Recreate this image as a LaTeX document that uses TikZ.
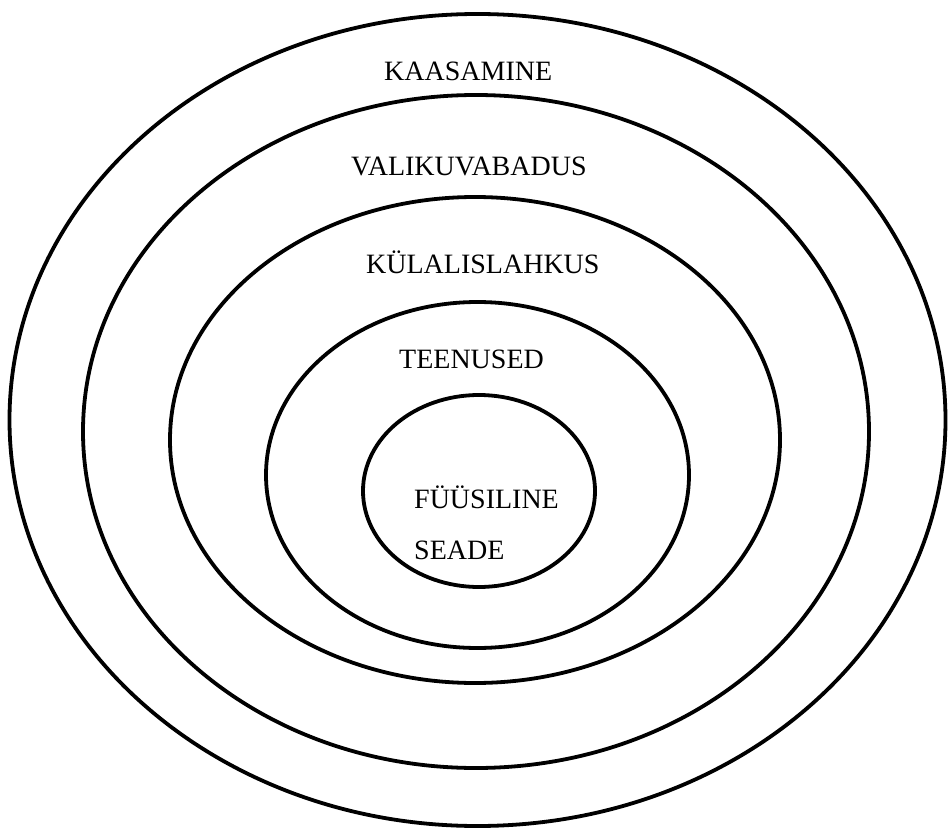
\documentclass[tikz,border=0pt]{standalone}
\usepackage{fontspec}
\setmainfont{Liberation Serif}
\usepackage{tikz}
\usetikzlibrary{positioning}

\begin{document}
\begin{tikzpicture}[
  x=1pt, y=-1pt,
  ring/.style={line width=3.8pt, black},
  lbl/.style={font=\fontsize{28}{30}\selectfont, inner sep=0pt, anchor=base west}
]
  \useasboundingbox (0,0) rectangle (948,829);

  % ── Rings, outer to inner ──
  \draw[ring] (477.5,420) ellipse (468 and 406);
  \draw[ring] (476,431.5) ellipse (393 and 336.5);
  \draw[ring] (475,440) ellipse (305 and 243);
  \draw[ring] (477.5,475) ellipse (211.5 and 173);
  \draw[ring] (479,491) ellipse (116 and 96);

  % ── Labels ──
  \node[lbl] (kaasamine) at (384,81) {KAASAMINE};
  \node[lbl] (valik) at (351,176) {VALIKUVABADUS};
  \node[lbl] (kylalis) at (366,273) {KÜLALISLAHKUS};
  \node[lbl] (teenused) at (399,368) {TEENUSED};
  \node[lbl] (fyysiline) at (414,508) {FÜÜSILINE};
  \node[lbl] (seade) at (414,559) {SEADE};

\end{tikzpicture}
\end{document}
